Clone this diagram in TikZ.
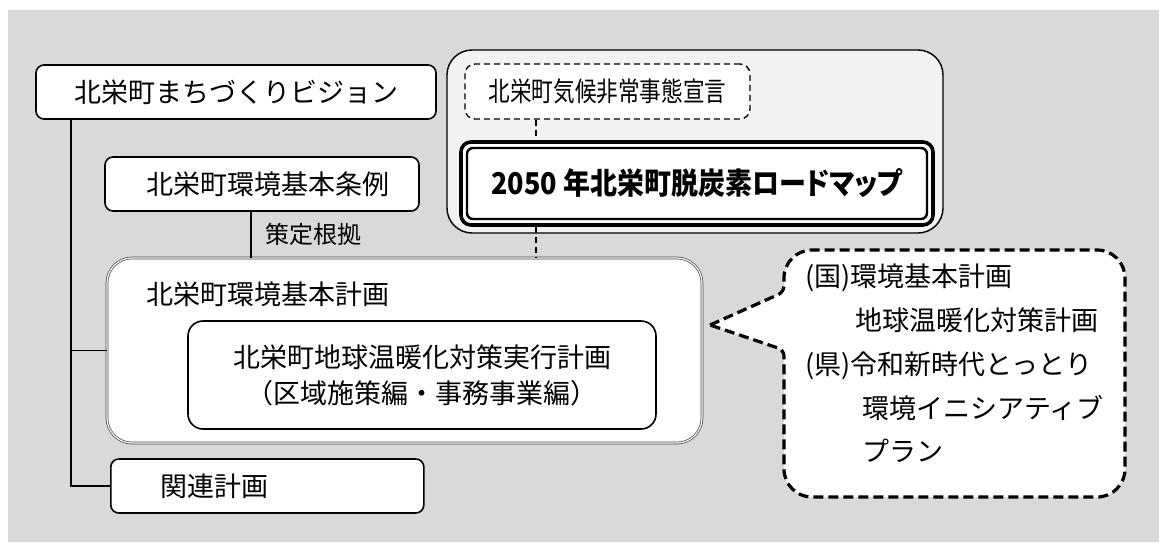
\documentclass[tikz,border=0pt]{standalone}
\usepackage{fontspec}
\setmainfont{Noto Sans CJK JP}
\newfontfamily\roadfont{Noto Sans CJK JP}[RawFeature=+palt,FakeStretch=0.9]
\newfontfamily\narrowfont{Noto Sans CJK JP}[FakeStretch=0.8]
\usetikzlibrary{positioning}

\begin{document}
\begin{tikzpicture}[x=1pt,y=-1pt,
	box/.style={draw,fill=white,line width=1.6pt,rounded corners=8pt,minimum height=54pt,inner sep=0pt,font=\fontsize{27}{36}\selectfont},
	planbox/.style={draw=black!75,double=white,double distance=1.2pt,line width=0.7pt,fill=white,rounded corners=25pt,minimum width=595pt,minimum height=185pt},
	dashbox/.style={box,dash pattern=on 6pt off 4pt,line width=1.4pt,rounded corners=10pt},
	link/.style={line width=1.6pt},
	dashlink/.style={line width=1.4pt,dash pattern=on 6pt off 4pt},
	txt/.style={inner sep=0pt,font=\fontsize{27}{36}\selectfont}]
	\useasboundingbox (0,0) rectangle (1159,542);
	\fill[black!15] (8,10) rectangle (1159,542);
	\draw[fill=black!5,line width=1.4pt,rounded corners=25pt] (447,50) rectangle (943,233);
	\node[box,minimum width=400pt] (vision) at (236,92) {北栄町まちづくりビジョン};
	\node[box,text width=290pt,inner xsep=12pt,align=center] (jorei) at (262,184) {\hspace*{12pt}北栄町環境基本条例};
	\node[planbox] (plan) at (404.5,350.5) {};
	\node[txt,below right=24pt and 40pt of plan.north west] (plantitle) {北栄町環境基本計画};
	\node[box,minimum width=468pt,minimum height=108pt,rounded corners=15pt,align=center] (jikko) at (422,375) {北栄町地球温暖化対策実行計画\\（区域施策編・事務事業編）};
	\node[box,text width=213pt,inner xsep=50pt,align=left,anchor=west] (kanren) at (110,486) {関連計画};
	\node[dashbox,minimum width=285pt,minimum height=55pt,font=\narrowfont\fontsize{27}{32}\selectfont] (kiko) at (607.5,91.5) {北栄町気候非常事態宣言};
	\node[draw,fill=white,line width=3.6pt,rounded corners=10pt,minimum width=472pt,minimum height=83pt] (roadframe) at (697,183.5) {};
	\node[draw,line width=2.4pt,rounded corners=6pt,minimum width=460pt,minimum height=71pt,font=\roadfont\bfseries\fontsize{30}{36}\selectfont] (road) at (697,183.5) {2050 年北栄町脱炭素ロードマップ};
	\coordinate (trunk) at (71,0);
	\coordinate (basis) at (251,0);
	\coordinate (decl) at (536,0);
	\coordinate (tip) at (710,325);
	\draw[link] (vision.south -| trunk) |- (plan.west);
	\draw[link] (vision.south -| trunk) |- (kanren.west);
	\draw[link] (jorei.south -| basis) -- node[txt,right=14pt,font=\fontsize{24}{28}\selectfont] (konkyo) {策定根拠} (plan.north -| basis);
	\draw[dashlink] (kiko.south -| decl) -- (roadframe.north -| decl);
	\draw[dashlink] (roadframe.south -| decl) -- (plan.north -| decl);
	\draw[line width=3.2pt,dash pattern=on 10pt off 5pt,fill=white] (tip) [rounded corners=6pt] -- (784,292) [rounded corners=28pt] -- (784,250) -- (1125,250) -- (1125,497) -- (784,497) [rounded corners=6pt] -- (784,350) [sharp corners] -- cycle;
	\node[txt,anchor=north west,align=left,font=\fontsize{27}{43.75}\selectfont] (kuni) at (805,264) {(国)環境基本計画\\\hspace*{50pt}地球温暖化対策計画\\(県)令和新時代とっとり\\\hspace*{57pt}環境イニシアティブ\\\hspace*{57pt}プラン};
\end{tikzpicture}
\end{document}
